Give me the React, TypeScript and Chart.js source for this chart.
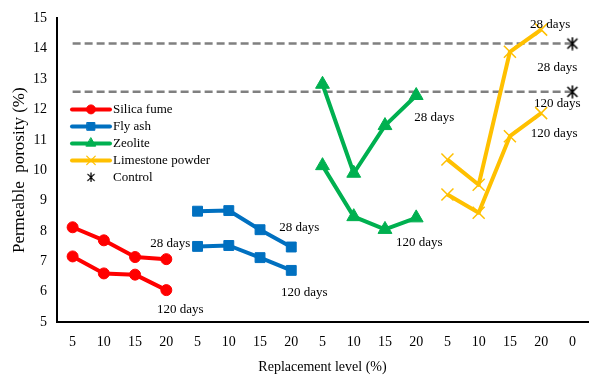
import React, { useEffect, useRef } from 'react';
import { Chart, registerables } from 'chart.js';
import { drawPoint } from 'chart.js/helpers';

Chart.register(...registerables);

// Replacement levels, grouped per material, with the control at the end
const categories = ['5', '10', '15', '20', '5', '10', '15', '20', '5', '10', '15', '20', '5', '10', '15', '20', '0'];

// Permeable porosity (%) at 28 and 120 days
const silicaFume28 = [8.12, 7.69, 7.14, 7.07];
const silicaFume120 = [7.16, 6.6, 6.56, 6.05];
const flyAsh28 = [8.65, 8.67, 8.04, 7.47];
const flyAsh120 = [7.49, 7.52, 7.12, 6.7];
const zeolite28 = [12.83, 9.9, 11.47, 12.46];
const zeolite120 = [10.15, 8.47, 8.05, 8.43];
const limestone28 = [10.35, 9.52, 13.9, 14.63];
const limestone120 = [9.2, 8.6, 11.12, 11.88];
const control28 = 14.17;
const control120 = 12.58;

const yTicks = { min: 5, max: 15, step: 1 };

const FONT = "'Liberation Serif', 'Times New Roman', serif";
const RED = '#FF0000';
const BLUE = '#0070C0';
const GREEN = '#00B050';
const GOLD = '#FFC000';
const GREY = '#808080';

// Spread a material's four values onto its own group of categories
function place(values: number[], start: number): (number | null)[] {
  const out: (number | null)[] = categories.map(() => null);
  values.forEach((v, i) => (out[start + i] = v));
  return out;
}

function controlMarker(): HTMLCanvasElement {
  const c = document.createElement('canvas');
  c.width = 14;
  c.height = 14;
  const g = c.getContext('2d')!;
  g.strokeStyle = '#000';
  g.lineWidth = 1.6;
  g.beginPath();
  g.moveTo(2, 2);
  g.lineTo(12, 12);
  g.moveTo(12, 2);
  g.lineTo(2, 12);
  g.moveTo(7, 0.5);
  g.lineTo(7, 13.5);
  g.stroke();
  return c;
}

function series(label: string, values: (number | null)[], color: string, style: string, radius: number, width = 1) {
  return {
    label,
    data: values,
    borderColor: color,
    backgroundColor: color,
    borderWidth: 4,
    pointStyle: style,
    pointRadius: radius,
    pointBorderWidth: width,
    pointBackgroundColor: color,
    pointBorderColor: color,
    borderJoinStyle: 'round' as const,
    tension: 0,
    spanGaps: false,
  };
}

export default function App() {
  const ref = useRef<HTMLCanvasElement>(null);

  useEffect(() => {
    if (!ref.current) return;
    const marker = controlMarker();
    const last = categories.length - 1;

    const datasets: any[] = [
      series('Silica fume 28', place(silicaFume28, 0), RED, 'circle', 5.5),
      series('Silica fume 120', place(silicaFume120, 0), RED, 'circle', 5.5),
      series('Fly ash 28', place(flyAsh28, 4), BLUE, 'rect', 7),
      series('Fly ash 120', place(flyAsh120, 4), BLUE, 'rect', 7),
      series('Zeolite 28', place(zeolite28, 8), GREEN, 'triangle', 8),
      series('Zeolite 120', place(zeolite120, 8), GREEN, 'triangle', 8),
      series('Limestone powder 28', place(limestone28, 12), GOLD, 'crossRot', 8.5, 1.5),
      series('Limestone powder 120', place(limestone120, 12), GOLD, 'crossRot', 8.5, 1.5),
      {
        label: 'Control 28',
        data: categories.map((_, i) => (i === last ? control28 : null)),
        showLine: false,
        pointStyle: marker,
        pointRadius: 7,
      },
      {
        label: 'Control 120',
        data: categories.map((_, i) => (i === last ? control120 : null)),
        showLine: false,
        pointStyle: marker,
        pointRadius: 7,
      },
      {
        label: 'Control level 28',
        data: categories.map(() => control28),
        borderColor: GREY,
        borderWidth: 2.5,
        borderDash: [8, 4],
        pointRadius: 0,
      },
      {
        label: 'Control level 120',
        data: categories.map(() => control120),
        borderColor: GREY,
        borderWidth: 2.5,
        borderDash: [8, 4],
        pointRadius: 0,
      },
    ];

    // Age labels next to the last point of each series: [text, dataset, point, dx, dy]
    const ageLabels: [string, number, number, number, number][] = [
      ['28 days', 0, 3, 4, -16],
      ['120 days', 1, 3, 14, 19],
      ['28 days', 2, 7, 8, -19],
      ['120 days', 3, 7, 13, 22],
      ['28 days', 4, 11, 18, 22],
      ['120 days', 5, 11, 3, 25],
      ['28 days', 6, 15, 9, -5],
      ['120 days', 7, 15, 13, 20],
      ['28 days', 8, 16, -15, 24],
      ['120 days', 9, 16, -15, 12],
    ];

    const ageLabelPlugin = {
      id: 'ageLabels',
      afterDatasetsDraw(chart: any) {
        const ctx = chart.ctx;
        ctx.save();
        ctx.font = `13px ${FONT}`;
        ctx.fillStyle = '#000';
        ctx.textAlign = 'center';
        ctx.textBaseline = 'middle';
        for (const [text, ds, idx, dx, dy] of ageLabels) {
          const pt = chart.getDatasetMeta(ds).data[idx];
          if (pt) ctx.fillText(text, pt.x + dx, pt.y + dy);
        }
        ctx.restore();
      },
    };

    const legendItems = [
      { text: 'Silica fume', color: RED, style: 'circle', radius: 4.5, width: 1 },
      { text: 'Fly ash', color: BLUE, style: 'rect', radius: 5.5, width: 1 },
      { text: 'Zeolite', color: GREEN, style: 'triangle', radius: 5.5, width: 1 },
      { text: 'Limestone powder', color: GOLD, style: 'crossRot', radius: 6, width: 1.3 },
      { text: 'Control', color: '', style: 'control', radius: 0, width: 0 },
    ];

    const legendPlugin = {
      id: 'insideLegend',
      afterDraw(chart: any) {
        const ctx = chart.ctx;
        const { left, top } = chart.chartArea;
        const x0 = left + 15;
        const x1 = left + 53;
        const xm = (x0 + x1) / 2;
        ctx.save();
        ctx.font = `13px ${FONT}`;
        ctx.textBaseline = 'middle';
        ctx.textAlign = 'left';
        legendItems.forEach((item, i) => {
          const y = top + 91 + i * 17;
          if (item.style === 'control') {
            ctx.drawImage(marker, xm - 5, y - 5, 10, 10);
          } else {
            ctx.strokeStyle = item.color;
            ctx.lineWidth = 4;
            ctx.lineCap = 'round';
            ctx.beginPath();
            ctx.moveTo(x0, y);
            ctx.lineTo(x1, y);
            ctx.stroke();
            ctx.fillStyle = item.color;
            ctx.lineWidth = item.width;
            drawPoint(ctx, { pointStyle: item.style, radius: item.radius, borderWidth: item.width, rotation: 0 } as any, xm, y);
          }
          ctx.fillStyle = '#000';
          ctx.fillText(item.text, x1 + 3, y);
        });
        ctx.restore();
      },
    };

    const chart = new Chart(ref.current, {
      type: 'line',
      data: { labels: categories, datasets },
      plugins: [ageLabelPlugin, legendPlugin],
      options: {
        animation: false,
        responsive: true,
        maintainAspectRatio: false,
        layout: { padding: { top: 17, right: 4, left: 0, bottom: 0 } },
        plugins: { legend: { display: false }, tooltip: { enabled: false } },
        scales: {
          x: {
            type: 'category',
            offset: true,
            grid: { display: true, drawOnChartArea: false, drawTicks: false },
            border: { display: true, color: '#000', width: 2 },
            ticks: { color: '#000', font: { family: FONT, size: 14 }, padding: 12, maxRotation: 0, autoSkip: false },
            title: {
              display: true,
              text: 'Replacement level (%)',
              color: '#000',
              font: { family: FONT, size: 14 },
              padding: { top: 0, bottom: 2 },
            },
            afterFit(scale: any) {
              scale.height = 56;
            },
          },
          y: {
            min: yTicks.min,
            max: yTicks.max,
            grid: { display: true, drawOnChartArea: false, drawTicks: false },
            border: { display: true, color: '#000', width: 2 },
            ticks: { stepSize: yTicks.step, color: '#000', font: { family: FONT, size: 14 }, padding: 10 },
            title: {
              display: true,
              text: 'Permeable  porosity (%)',
              color: '#000',
              font: { family: FONT, size: 17 },
              padding: { top: 9, bottom: 0 },
            },
            afterFit(scale: any) {
              scale.width = 57;
            },
          },
        },
      },
    });
    return () => chart.destroy();
  }, []);

  return (
    <div style={{ position: 'absolute', left: 0, top: 0, width: 598, height: 378, background: '#fff' }}>
      <canvas ref={ref} />
    </div>
  );
}
